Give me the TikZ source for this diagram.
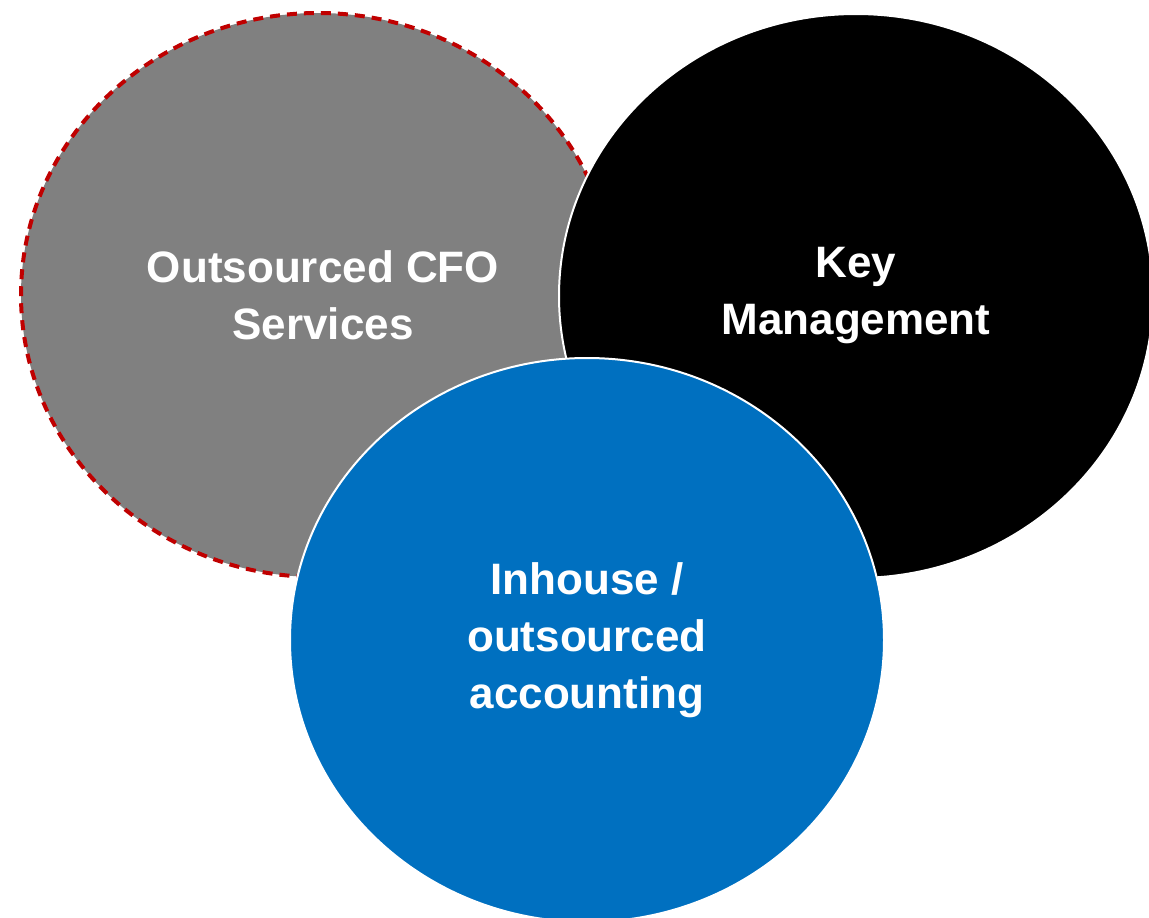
\documentclass[tikz,border=0pt]{standalone}
\usepackage{fontspec}
\setmainfont{Liberation Sans}
\usetikzlibrary{shapes.geometric}
\definecolor{cfogray}{HTML}{808080}
\definecolor{acctblue}{HTML}{0070C0}
\definecolor{dashred}{HTML}{C00000}
\tikzset{
  bubble/.style={ellipse, minimum width=594pt, minimum height=564pt, inner sep=0pt,
    text=white, align=center, font=\fontsize{44}{57}\selectfont\bfseries},
}
\begin{document}
\begin{tikzpicture}[x=1pt, y=-1pt] % three circles
  \useasboundingbox (0,0) rectangle (1149,918);
  \clip (0,0) rectangle (1149,918);

  \node[bubble, fill=cfogray, preaction={draw=white, line width=1.5pt},
        draw=dashred, line width=4pt, dash pattern=on 10pt off 7pt]
    (cfo) at (318,295) {\hspace*{10pt}Outsourced CFO\\\hspace*{10pt}Services};
  \node[bubble, fill=black, draw=white, line width=2pt]
    (mgmt) at (856,296) {Key\\Management};
  \node[bubble, fill=acctblue, draw=white, line width=2pt]
    (acct) at (587,640) {Inhouse /\\outsourced\\accounting};
\end{tikzpicture}
\end{document}
